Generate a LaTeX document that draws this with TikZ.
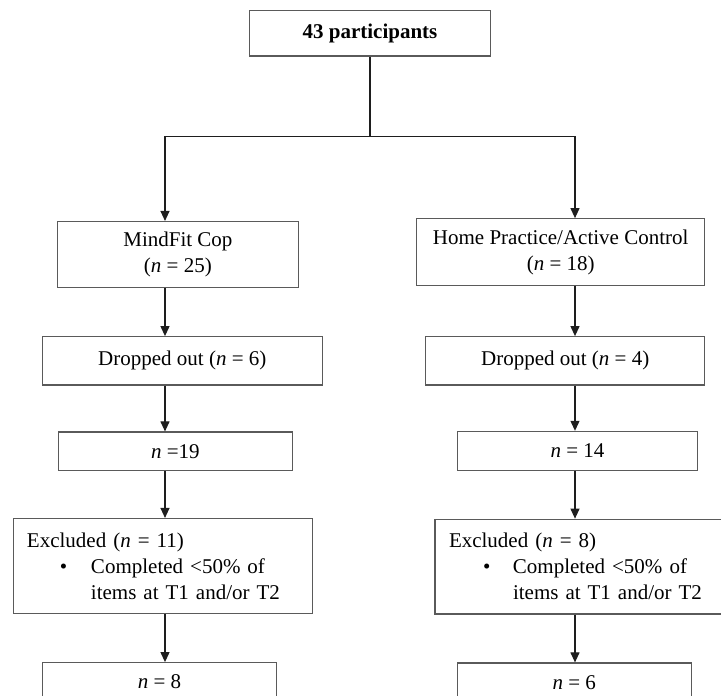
\documentclass[tikz,border=0pt]{standalone}
\usepackage{fontspec}
\setmainfont{Liberation Serif}
\usetikzlibrary{arrows.meta, positioning, calc}
\usepackage{xcolor}
\definecolor{BoxLine}{HTML}{5A5A5A}
\definecolor{FlowLine}{HTML}{1E1E1E}
\tikzset{
  pbox/.style={draw=BoxLine, line width=1.1pt, align=center, inner sep=0pt,
    font=\fontsize{21}{26}\selectfont},
  tbox/.style={pbox, font=\fontsize{21}{26}\selectfont\bfseries},
  xbox/.style={pbox, align=left, inner xsep=13.4pt, text width=272pt,
    minimum width=299.4pt, minimum height=94.8pt},
  nbox/.style={pbox, minimum height=38.7pt},
  flow/.style={-{Triangle[length=10pt, width=9pt]}, line width=1.1pt, draw=FlowLine},
  link/.style={line width=1.1pt, draw=FlowLine},
}

\begin{document}
\begin{tikzpicture}[x=1pt, y=-1pt]
    \clip (0,0) rectangle (721,696);
    % column lines of the arrows
    \coordinate (lcol) at (165,0);
    \coordinate (rcol) at (575,0);
    \coordinate (split) at (370,136.7);

    \node[tbox, minimum width=240.4pt, minimum height=45.3pt] (total) at (370,33.3) {43 participants};

    \node[pbox, minimum width=240.8pt, minimum height=65.8pt] (mind) at (177.9,254.4) {MindFit Cop\\(\textit{n} = 25)};
    \node[pbox, minimum width=288.2pt, minimum height=66.6pt] (home) at (560.7,252) {Home Practice/Active Control\\(\textit{n} = 18)};

    \node[pbox, minimum width=280pt, minimum height=48.3pt] (dropm) at (182.3,360.8) {Dropped out (\textit{n} = 6)};
    \node[pbox, minimum width=279.3pt, minimum height=48.3pt] (droph) at (565.2,360.8) {Dropped out (\textit{n} = 4)};

    \node[nbox, minimum width=234pt] (leftm) at (175.4,451.3) {\textit{n} =19};
    \node[nbox, minimum width=240pt] (lefth) at (577.5,450.7) {\textit{n} = 14};

    \node[xbox] (exclm) at (163,565.9) {Excluded (\textit{n} = 11)\\
      \hspace*{33pt}\makebox[31pt][l]{\textbullet}Completed <50\% of\\
      \hspace*{64pt}items at T1 and/or T2};
    \node[xbox, minimum width=300pt] (exclh) at (585,566.6) {Excluded (\textit{n} = 8)\\
      \hspace*{34pt}\makebox[30pt][l]{\textbullet}Completed <50\% of\\
      \hspace*{64pt}items at T1 and/or T2};

    \node[nbox, minimum width=233.6pt] (finalm) at (159.5,682) {\textit{n} = 8};
    \node[nbox, minimum width=233.5pt] (finalh) at (574.3,682.3) {\textit{n} = 6};

    \draw[link] (total.south) -- (split);
    \draw[flow] (split) -| (mind.north -| lcol);
    \draw[flow] (split) -| (home.north -| rcol);
    \draw[flow] (mind.south -| lcol) -- (dropm.north -| lcol);
    \draw[flow] (home.south -| rcol) -- (droph.north -| rcol);
    \draw[flow] (dropm.south -| lcol) -- (leftm.north -| lcol);
    \draw[flow] (droph.south -| rcol) -- (lefth.north -| rcol);
    \draw[flow] (leftm.south -| lcol) -- (exclm.north -| lcol);
    \draw[flow] (lefth.south -| rcol) -- (exclh.north -| rcol);
    \draw[flow] (exclm.south -| lcol) -- (finalm.north -| lcol);
    \draw[flow] (exclh.south -| rcol) -- (finalh.north -| rcol);
  \end{tikzpicture}
\end{document}
